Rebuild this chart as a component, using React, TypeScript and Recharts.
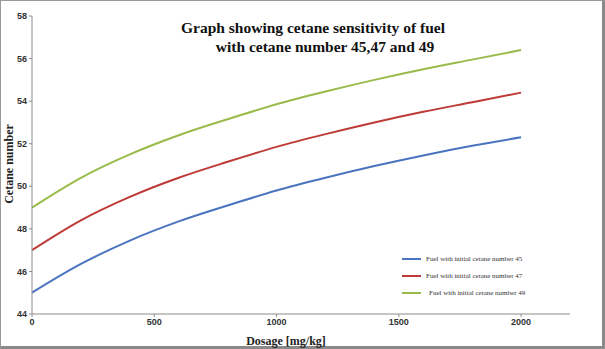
import { LineChart, Line, XAxis, YAxis } from "recharts";

const dosage = [0, 200, 400, 600, 800, 1000, 1200, 1400, 1600, 1800, 2000];
const fuel45 = [45, 46.35, 47.45, 48.35, 49.1, 49.8, 50.4, 50.95, 51.45, 51.9, 52.3];
const fuel47 = [47, 48.4, 49.5, 50.4, 51.15, 51.85, 52.45, 53.0, 53.5, 53.95, 54.4];
const fuel49 = [49, 50.4, 51.5, 52.4, 53.15, 53.85, 54.45, 55.0, 55.5, 55.95, 56.4];
const xTicks = [0, 500, 1000, 1500, 2000];
const yTicks = [44, 46, 48, 50, 52, 54, 56, 58];

const series = [
  { key: "f45", name: "Fuel with initial cetane number 45", color: "#4A74BF" },
  { key: "f47", name: "Fuel with initial cetane number 47", color: "#BE3A36" },
  { key: "f49", name: "Fuel with initial cetane number 49", color: "#98BB4A" },
];

const data = dosage.map((d, i) => ({ dosage: d, f45: fuel45[i], f47: fuel47[i], f49: fuel49[i] }));

const serif = "'Liberation Serif', 'Times New Roman', serif";
const sans = "'Liberation Sans', Arial, sans-serif";

export default function App() {
  return (
    <div
      style={{
        position: "absolute",
        left: 0,
        top: 0,
        width: 605,
        height: 349,
        background: "#fff",
        boxSizing: "border-box",
        border: "1px solid #9a9a9a",
        borderRight: "3px solid #8a8a8a",
        borderBottom: "3px solid #8a8a8a",
      }}
    >
      <LineChart
        width={603}
        height={346}
        data={data}
        margin={{ top: 15, right: 34, bottom: 13, left: 0 }}
      >
        <XAxis
          dataKey="dosage"
          type="number"
          domain={[0, 2200]}
          ticks={xTicks}
          stroke="#8c8c8c"
          tickSize={3}
          height={20}
          tick={{ fill: "#333", fontSize: 9, fontFamily: sans, fontWeight: 700 }}
        />
        <YAxis
          type="number"
          domain={[44, 58]}
          ticks={yTicks}
          width={31}
          stroke="#8c8c8c"
          tickSize={3}
          tick={{ fill: "#333", fontSize: 9, fontFamily: sans, fontWeight: 700 }}
        />
        {series.map((s) => (
          <Line
            key={s.key}
            dataKey={s.key}
            name={s.name}
            stroke={s.color}
            strokeWidth={2}
            dot={false}
            type="monotone"
            isAnimationActive={false}
          />
        ))}
      </LineChart>
      <div
        style={{
          position: "absolute",
          left: 167,
          top: 17,
          width: 290,
          textAlign: "center",
          fontFamily: serif,
          fontWeight: 700,
          fontSize: 15.5,
          lineHeight: "19px",
          color: "#111",
        }}
      >
        Graph showing cetane sensitivity of fuel
        <br />
        <span style={{ paddingLeft: 24 }}>with cetane number 45,47 and 49</span>
      </div>
      <div
        style={{
          position: "absolute",
          left: 8,
          top: 163,
          transform: "translate(-50%, -50%) rotate(-90deg)",
          whiteSpace: "nowrap",
          fontFamily: serif,
          fontWeight: 700,
          fontSize: 12,
          color: "#222",
        }}
      >
        Cetane number
      </div>
      <div
        style={{
          position: "absolute",
          left: 285,
          top: 333,
          transform: "translateX(-50%)",
          whiteSpace: "nowrap",
          fontFamily: serif,
          fontWeight: 700,
          fontSize: 12,
          color: "#222",
        }}
      >
        Dosage [mg/kg]
      </div>
      {series.map((s, i) => (
        <div
          key={s.key}
          style={{
            position: "absolute",
            left: 401,
            top: 254 + i * 17,
            display: "flex",
            alignItems: "center",
            fontFamily: serif,
            fontSize: 7,
            color: "#333",
            whiteSpace: "nowrap",
          }}
        >
          <span style={{ display: "inline-block", width: 19, height: 2, background: s.color, marginRight: i === 2 ? 8 : 5 }} />
          {s.name}
        </div>
      ))}
    </div>
  );
}
